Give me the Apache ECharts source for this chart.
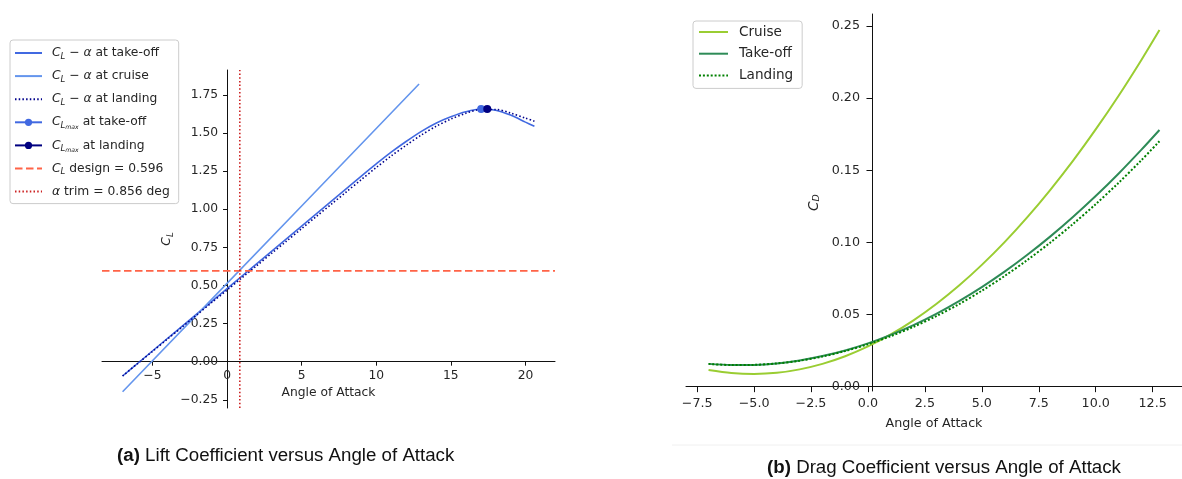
<!DOCTYPE html>
<html>
<head>
<meta charset="utf-8">
<script src="https://cdn.jsdelivr.net/npm/echarts@6/dist/echarts.min.js"></script>
<style>
  html, body { margin: 0; padding: 0; background: #fff; }
  #chart { width: 1182px; height: 479px; }
</style>
</head>
<body>
<div id="chart"></div>
<script>
// ---- Lift curves (angle of attack in degrees) ----
const ALPHA_LIFT = [-7, -6, -5, -4, -3, -2, -1, 0, 1, 2, 3, 4, 5, 6, 7, 8, 9, 10, 11, 12, 13, 14, 15, 16, 17, 18, 19, 20, 20.6];
const CL_TAKEOFF = [-0.094, -0.012, 0.07, 0.152, 0.234, 0.316, 0.398, 0.48, 0.562, 0.644, 0.726, 0.808, 0.89, 0.972, 1.054, 1.136, 1.218, 1.298, 1.375, 1.445, 1.51, 1.565, 1.607, 1.64, 1.658, 1.65, 1.618, 1.572, 1.545];
const CL_LANDING = [-0.094, -0.013, 0.067, 0.148, 0.228, 0.309, 0.39, 0.47, 0.551, 0.631, 0.712, 0.792, 0.873, 0.954, 1.034, 1.115, 1.195, 1.274, 1.35, 1.42, 1.486, 1.544, 1.592, 1.63, 1.655, 1.655, 1.632, 1.598, 1.578];
const ALPHA_CRUISE_CL = [-7, 0, 5, 10, 12.87];
const CL_CRUISE = [-0.197, 0.514, 1.022, 1.53, 1.822];
const CLMAX_TAKEOFF = [17.03, 1.658];
const CLMAX_LANDING = [17.44, 1.658];
const CL_DESIGN = 0.596;
const ALPHA_TRIM = 0.856;

// ---- Drag curves ----
const ALPHA_DRAG = [-7, -6, -5, -4, -3, -2, -1, 0, 1, 2, 3, 4, 5, 6, 7, 8, 9, 10, 11, 12, 12.8];
const CD_CRUISE = [0.0116, 0.0095, 0.0088, 0.0096, 0.0120, 0.0158, 0.0211, 0.0279, 0.0362, 0.0460, 0.0573, 0.0701, 0.0844, 0.1002, 0.1175, 0.1363, 0.1565, 0.1783, 0.2015, 0.2263, 0.2472];
const CD_TAKEOFF = [0.0158, 0.0150, 0.0151, 0.0161, 0.0182, 0.0212, 0.0251, 0.0300, 0.0359, 0.0427, 0.0505, 0.0593, 0.0690, 0.0797, 0.0914, 0.1040, 0.1176, 0.1321, 0.1476, 0.1641, 0.1779];
const CD_LANDING = [0.0158, 0.0150, 0.0151, 0.0161, 0.0180, 0.0209, 0.0247, 0.0294, 0.0350, 0.0415, 0.0489, 0.0572, 0.0665, 0.0767, 0.0878, 0.0998, 0.1127, 0.1265, 0.1412, 0.1569, 0.1701];

// ---- Axis ranges and ticks ----
const LIFT_X_RANGE = [-8.38, 21.98];
const LIFT_Y_RANGE = [-0.304, 1.914];
const LIFT_X_TICKS = [-5, 0, 5, 10, 15, 20];
const LIFT_Y_TICKS = [-0.25, 0, 0.25, 0.5, 0.75, 1, 1.25, 1.5, 1.75];
const DRAG_X_RANGE = [-7.99, 13.79];
const DRAG_Y_RANGE = [-0.003, 0.2583];
const DRAG_X_TICKS = [-7.5, -5, -2.5, 0, 2.5, 5, 7.5, 10, 12.5];
const DRAG_Y_TICKS = [0, 0.05, 0.1, 0.15, 0.2, 0.25];

// Plot boxes
const LIFT_GRID = { left: 102, top: 70, width: 453, height: 338 };
const DRAG_GRID = { left: 686, top: 14, width: 507, height: 377 };

const pairs = (xs, ys) => xs.map((x, i) => [x, ys[i]]);
const minus = s => s.replace('-', '\u2212');
const fmt = d => v => minus(Number(v).toFixed(d));
// Shift that puts a spine through zero of the other axis (whole axis, labels included)
const zeroShift = (range, size) => -((0 - range[0]) / (range[1] - range[0])) * size;

const FONT = 'DejaVu Sans';
const INK = '#262626';
const DOTS = [1.5, 2.2];

function axis(range, ticks, decimals, size, margin, tickLen, name, nameGap, rich, rotate, offset) {
  return {
    type: 'value', min: range[0], max: range[1], offset: offset,
    splitLine: { show: false },
    axisLine: { onZero: false, lineStyle: { color: '#111', width: 1 } },
    axisTick: { show: true, customValues: ticks, length: tickLen, lineStyle: { color: '#111', width: 1 } },
    axisLabel: { customValues: ticks, formatter: fmt(decimals), color: INK, fontFamily: FONT, fontSize: size, margin: margin },
    name: name, nameLocation: 'middle', nameGap: nameGap, nameRotate: rotate,
    nameTextStyle: { color: INK, fontFamily: FONT, fontSize: size, rich: rich }
  };
}

const subRich = (size) => ({
  n: { fontFamily: FONT, fontSize: size, color: INK, lineHeight: 16 },
  i: { fontFamily: FONT, fontSize: size, color: INK, fontStyle: 'italic', lineHeight: 16 },
  s: { fontFamily: FONT, fontSize: size * 0.7, color: INK, fontStyle: 'italic', verticalAlign: 'bottom', lineHeight: 8 },
  ss: { fontFamily: FONT, fontSize: size * 0.5, color: INK, fontStyle: 'italic', verticalAlign: 'bottom', lineHeight: 3 }
});

const LIFT_LABELS = {
  to: '{i|C}{s|L}{n| \u2212 }{i|\u03b1}{n| at take-off}',
  cr: '{i|C}{s|L}{n| \u2212 }{i|\u03b1}{n| at cruise}',
  ld: '{i|C}{s|L}{n| \u2212 }{i|\u03b1}{n| at landing}',
  mto: '{i|C}{s|L}{ss|max}{n| at take-off}',
  mld: '{i|C}{s|L}{ss|max}{n| at landing}',
  des: '{i|C}{s|L}{n| design = 0.596}',
  trim: '{i|\u03b1}{n| trim = 0.856 deg}'
};

// legend entries: line-only entries hide the symbol, marker entries keep it
const lineOnly = name => ({ name: name, itemStyle: { opacity: 0 } });

const line = (name, data, color, width, type, extra) => Object.assign({
  type: 'line', name: name, data: data, xAxisIndex: 0, yAxisIndex: 0,
  symbol: 'none', smooth: 0.3, lineStyle: { color: color, width: width, type: type },
  itemStyle: { color: color }, silent: true
}, extra || {});

const option = {
  animation: false,
  grid: [LIFT_GRID, DRAG_GRID],
  xAxis: [
    Object.assign(axis(LIFT_X_RANGE, LIFT_X_TICKS, 0, 12.3, 8, 4, 'Angle of Attack', 25, null, 0,
      zeroShift(LIFT_Y_RANGE, LIFT_GRID.height)), { gridIndex: 0 }),
    Object.assign(axis(DRAG_X_RANGE, DRAG_X_TICKS, 1, 12.7, 11, 5.5, 'Angle of Attack', 31, null, 0,
      zeroShift(DRAG_Y_RANGE, DRAG_GRID.height)), { gridIndex: 1 })
  ],
  yAxis: [
    Object.assign(axis(LIFT_Y_RANGE, LIFT_Y_TICKS, 2, 12.3, 9, 4, '{i|C}{s|L}', 52, subRich(12.3), 90,
      zeroShift(LIFT_X_RANGE, LIFT_GRID.width)), { gridIndex: 0 }),
    Object.assign(axis(DRAG_Y_RANGE, DRAG_Y_TICKS, 2, 12.7, 12, 5.5, '{i|C}{s|D}', 50, subRich(13.6), 90,
      zeroShift(DRAG_X_RANGE, DRAG_GRID.width)), { gridIndex: 1 })
  ],
  legend: [
    {
      data: [lineOnly('to'), lineOnly('cr'), lineOnly('ld'), 'mto', 'mld', lineOnly('des'), lineOnly('trim')],
      orient: 'vertical', left: 10, top: 40,
      padding: [7, 9, 6, 4], itemGap: 9.1, itemWidth: 27, itemHeight: 9,
      backgroundColor: 'rgba(255,255,255,0.8)', borderColor: '#cccccc', borderWidth: 1, borderRadius: 3,
      selectedMode: false,
      formatter: n => LIFT_LABELS[n],
      textStyle: { fontFamily: FONT, fontSize: 12.3, color: INK, padding: [0, 0, 0, 5], rich: subRich(12.3) }
    },
    {
      data: [lineOnly('Cruise'), lineOnly('Take-off'), lineOnly('Landing')],
      orient: 'vertical', left: 693, top: 21,
      padding: [3, 9, 5, 5], itemGap: 5.7, itemWidth: 29, itemHeight: 9,
      backgroundColor: 'rgba(255,255,255,0.8)', borderColor: '#cccccc', borderWidth: 1, borderRadius: 3,
      selectedMode: false,
      textStyle: { fontFamily: FONT, fontSize: 13.6, color: INK, lineHeight: 16, padding: [0, 0, 0, 6] }
    }
  ],
  series: [
    line('to', pairs(ALPHA_LIFT, CL_TAKEOFF), '#4169e1', 1.6, 'solid'),
    line('cr', pairs(ALPHA_CRUISE_CL, CL_CRUISE), '#6495ed', 1.6, 'solid', { smooth: false }),
    line('ld', pairs(ALPHA_LIFT, CL_LANDING), '#00008b', 1.6, DOTS),
    line('mto', [CLMAX_TAKEOFF], '#4169e1', 1.6, 'solid', { symbol: 'circle', symbolSize: 8, showSymbol: true }),
    line('mld', [CLMAX_LANDING], '#000080', 1.6, 'solid', { symbol: 'circle', symbolSize: 8, showSymbol: true }),
    line('des', [[LIFT_X_RANGE[0], CL_DESIGN], [LIFT_X_RANGE[1], CL_DESIGN]], '#ff6347', 1.6, [7.5, 3.5], { smooth: false }),
    line('trim', [[ALPHA_TRIM, LIFT_Y_RANGE[0]], [ALPHA_TRIM, LIFT_Y_RANGE[1]]], '#cc2222', 1.6, DOTS, { smooth: false }),

    line('Cruise', pairs(ALPHA_DRAG, CD_CRUISE), '#9acd32', 2, 'solid', { xAxisIndex: 1, yAxisIndex: 1 }),
    line('Take-off', pairs(ALPHA_DRAG, CD_TAKEOFF), '#2e8b57', 2, 'solid', { xAxisIndex: 1, yAxisIndex: 1 }),
    line('Landing', pairs(ALPHA_DRAG, CD_LANDING), '#008000', 2, [2, 1.9], { xAxisIndex: 1, yAxisIndex: 1 })
  ],
  graphic: [
    { type: 'line', silent: true, shape: { x1: 672, y1: 445, x2: 1182, y2: 445 }, style: { stroke: '#f0f0f0', lineWidth: 1 } },
    {
      type: 'text', silent: true, x: 285.7, y: 456,
      style: {
        text: '{b|(a)} Lift Coefficient versus Angle of Attack',
        align: 'center', verticalAlign: 'middle',
        fontFamily: 'Liberation Sans', fontSize: 18.7, fill: '#111',
        rich: { b: { fontFamily: 'Liberation Sans', fontSize: 18.7, fontWeight: 'bold', fill: '#111' } }
      }
    },
    {
      type: 'text', silent: true, x: 944, y: 468,
      style: {
        text: '{b|(b)} Drag Coefficient versus Angle of Attack',
        align: 'center', verticalAlign: 'middle',
        fontFamily: 'Liberation Sans', fontSize: 18.7, fill: '#111',
        rich: { b: { fontFamily: 'Liberation Sans', fontSize: 18.7, fontWeight: 'bold', fill: '#111' } }
      }
    }
  ]
};

const chart = echarts.init(document.getElementById('chart'), null, { renderer: 'canvas' });
chart.setOption(option);
</script>
</body>
</html>
